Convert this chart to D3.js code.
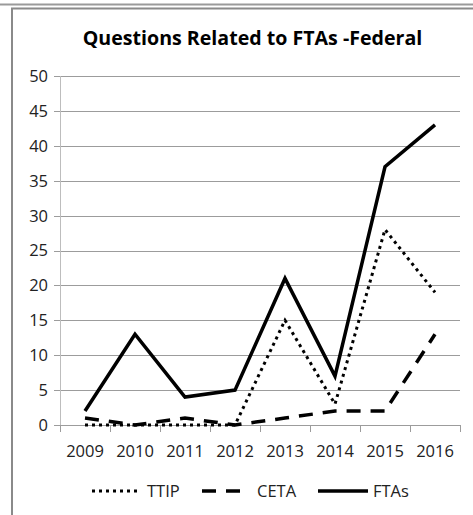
<!DOCTYPE html>
<html><head><meta charset="utf-8">
<script src="https://cdn.jsdelivr.net/npm/d3@7"></script>
<style>
html,body{margin:0;padding:0;background:#fff;}
svg{display:block;}
text{font-family:"Open Sans",sans-serif;fill:#222;}
</style></head>
<body>
<script>
const years = ["2009","2010","2011","2012","2013","2014","2015","2016"];
const ttip = [0,0,0,0,15,3,28,19];
const ceta = [1,0,1,0,1,2,2,13];
const ftas = [2,13,4,5,21,7,37,43];
const yTicks = [0,5,10,15,20,25,30,35,40,45,50];
const title = "Questions Related to FTAs -Federal";
const seriesNames = ["TTIP","CETA","FTAs"];

const W = 473, H = 515;
const svg = d3.select("body").append("svg").attr("width", W).attr("height", H);

// outer frame
svg.append("line").attr("x1",0).attr("x2",W).attr("y1",4.5).attr("y2",4.5)
  .attr("stroke","#9a9a9a").attr("stroke-width",2);
svg.append("path").attr("d",`M12,${H} L12,8.5 L${W},8.5`)
  .attr("fill","none").attr("stroke","#8a8a8a").attr("stroke-width",2);

const x = d3.scaleBand().domain(years).range([60,460]).padding(0);
const y = d3.scaleLinear().domain([0,50]).range([425,76]);
const cx = d => x(d) + x.bandwidth()/2;

// title
svg.append("text").attr("x",252.5).attr("y",45).attr("text-anchor","middle")
  .style("font-weight","bold").style("font-size","19.6px").style("fill","#000").text(title);

// gridlines
svg.append("g").selectAll("line").data(yTicks).join("line")
  .attr("x1",54).attr("x2",460).attr("y1",d=>Math.round(y(d))+0.5).attr("y2",d=>Math.round(y(d))+0.5)
  .attr("stroke","#9c9c9c").attr("stroke-width",1);

// y axis line
svg.append("line").attr("x1",60.5).attr("x2",60.5).attr("y1",Math.round(y(50))).attr("y2",Math.round(y(0))+0.5)
  .attr("stroke","#bdbdbd").attr("stroke-width",1);

// y labels
svg.append("g").selectAll("text").data(yTicks).join("text")
  .attr("x",48).attr("y",d=>y(d)).attr("dy","0.36em").attr("text-anchor","end")
  .style("font-size","16.5px").text(d=>d);

// x ticks
const xt = years.map(d=>x(d)).concat([x(years[years.length-1])+x.bandwidth()]);
svg.append("g").selectAll("line").data(xt).join("line")
  .attr("x1",d=>Math.round(d)+0.5).attr("x2",d=>Math.round(d)+0.5)
  .attr("y1",Math.round(y(0))).attr("y2",Math.round(y(0))+7)
  .attr("stroke","#9c9c9c").attr("stroke-width",1);

// x labels
svg.append("g").selectAll("text").data(years).join("text")
  .attr("x",d=>cx(d)).attr("y",457).attr("text-anchor","middle")
  .style("font-size","16.5px").text(d=>d);

const line = d3.line().x((d,i)=>cx(years[i])).y(d=>y(d));
const styles = {
  TTIP: {dash:"3,4", cap:"butt", w:3},
  CETA: {dash:"14,10", cap:"butt", w:3.5},
  FTAs: {dash:null, cap:"butt", w:3.5}
};
const data = {TTIP: ttip, CETA: ceta, FTAs: ftas};
seriesNames.forEach(n=>{
  svg.append("path").datum(data[n]).attr("d",line)
    .attr("fill","none").attr("stroke","#000").attr("stroke-width",styles[n].w)
    .attr("stroke-dasharray",styles[n].dash).attr("stroke-linecap",styles[n].cap)
    .attr("stroke-linejoin","miter");
});

// legend
const legend = [
  {n:"TTIP", x1:92, x2:140, tx:147},
  {n:"CETA", x1:202, x2:244, tx:257},
  {n:"FTAs", x1:318, x2:368, tx:373}
];
legend.forEach(l=>{
  svg.append("line").attr("x1",l.x1).attr("x2",l.x2).attr("y1",491).attr("y2",491)
    .attr("stroke","#000").attr("stroke-width",styles[l.n].w)
    .attr("stroke-dasharray",styles[l.n].dash);
  svg.append("text").attr("x",l.tx).attr("y",491).attr("dy","0.36em")
    .style("font-size","16.5px").text(l.n);
});
</script>
</body></html>
